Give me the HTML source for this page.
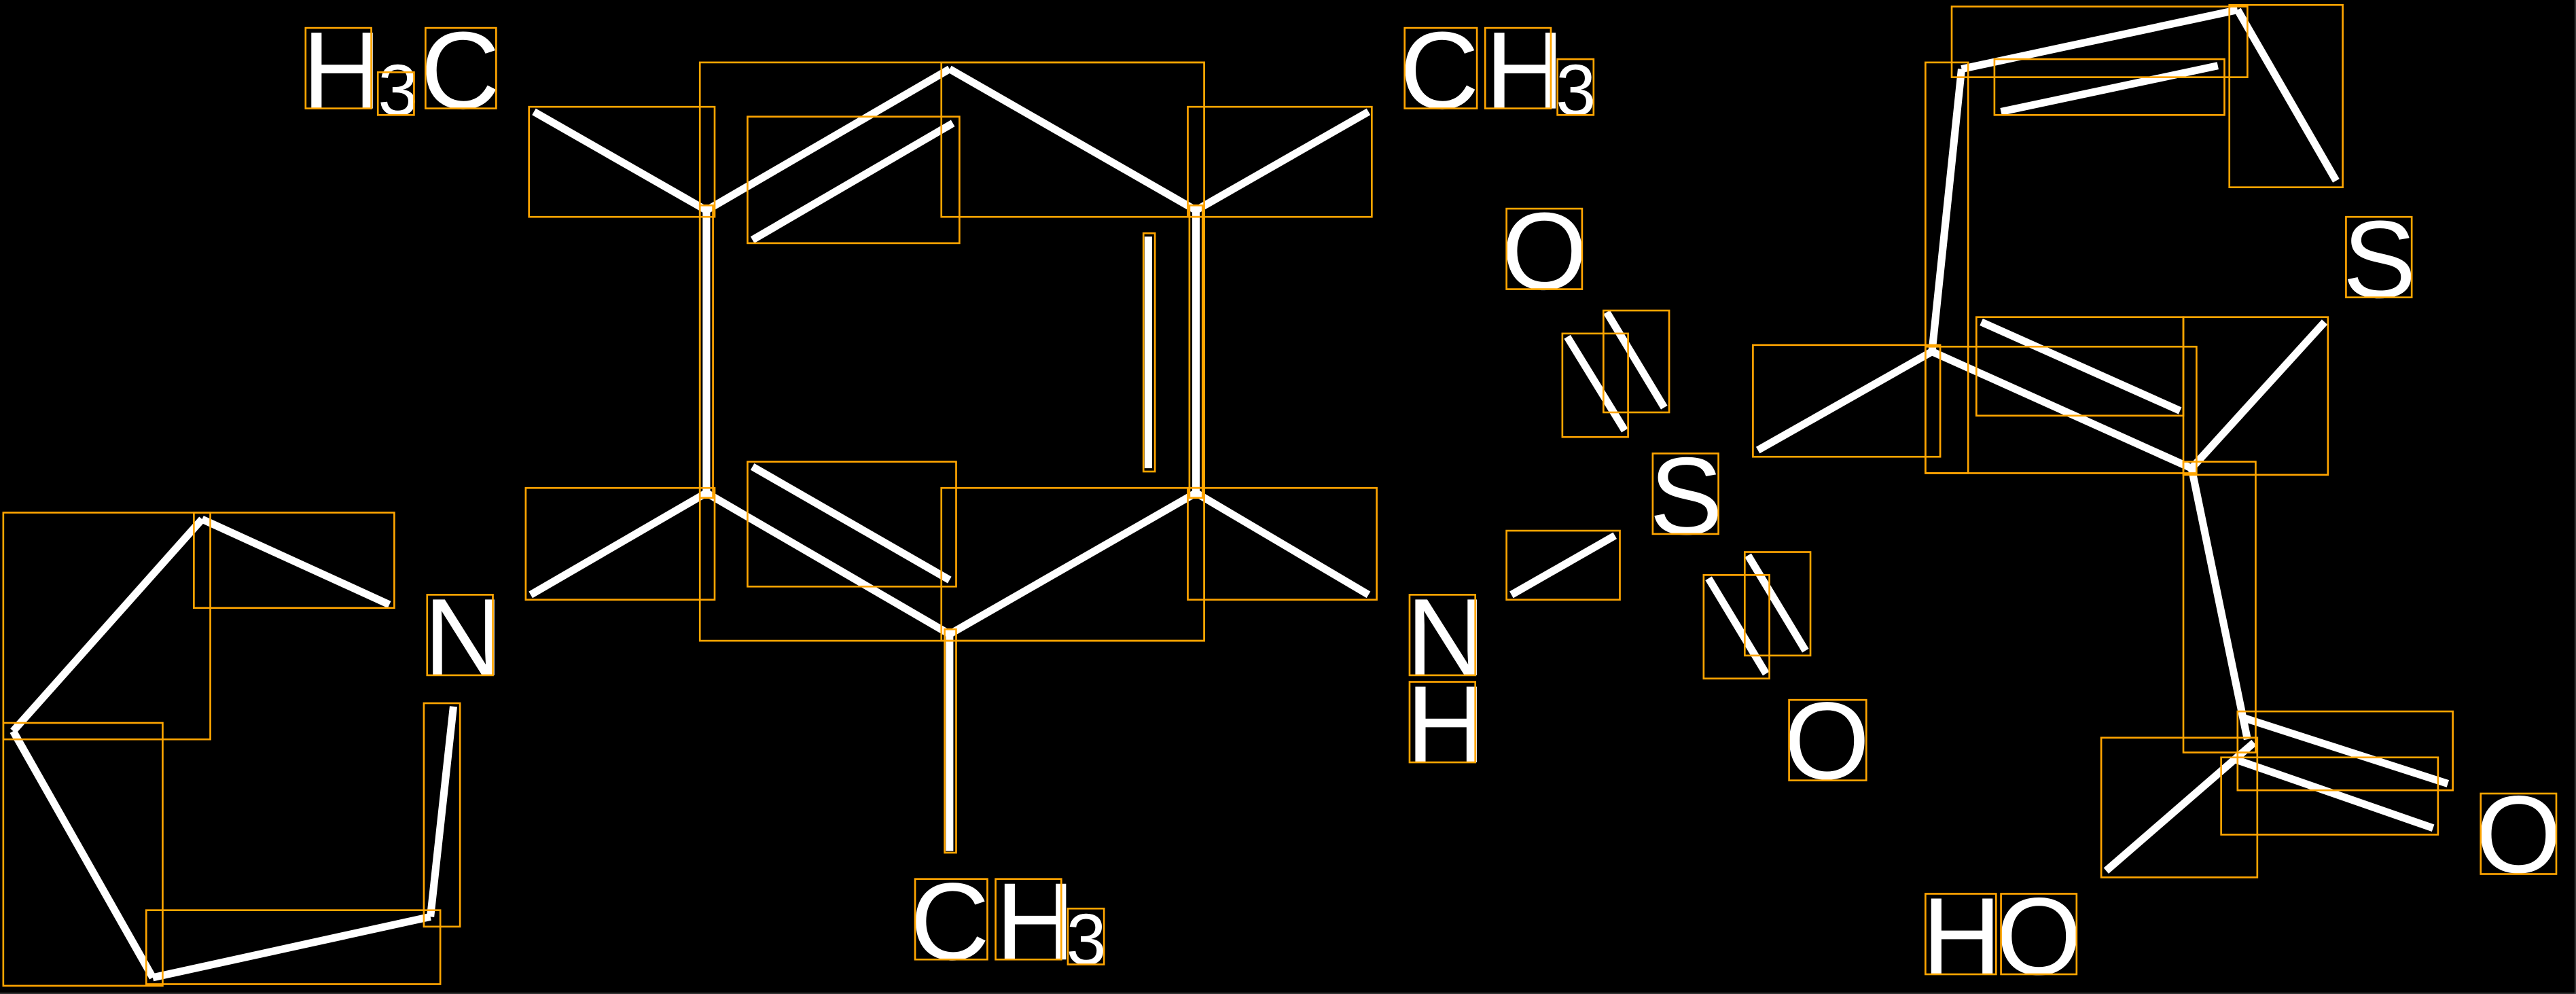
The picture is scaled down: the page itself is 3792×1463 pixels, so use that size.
<!DOCTYPE html>
<html><head><meta charset="utf-8"><style>
html,body{margin:0;padding:0;background:#000;}
svg{display:block;}
text{font-family:"Liberation Sans",sans-serif;fill:#fff;}
</style></head><body>
<svg width="3792" height="1463" viewBox="0 0 1568 605" preserveAspectRatio="none" xmlns="http://www.w3.org/2000/svg">
<rect x="0" y="0" width="1568" height="605" fill="#000"/>
<line x1="1567.5" y1="0" x2="1567.5" y2="605" stroke="#555" stroke-width="0.6"/>
<line x1="0" y1="604.5" x2="1568" y2="604.5" stroke="#555" stroke-width="0.6"/>
<g stroke="#fff" stroke-width="4.6" stroke-linecap="butt" fill="none">
<line x1="430" y1="128" x2="578" y2="42"/>
<line x1="458" y1="146" x2="580" y2="75"/>
<line x1="578" y1="42" x2="728" y2="128"/>
<line x1="728" y1="128" x2="728" y2="300"/>
<line x1="699" y1="144" x2="699" y2="285"/>
<line x1="728" y1="300" x2="578" y2="386"/>
<line x1="578" y1="386" x2="430" y2="300"/>
<line x1="458" y1="284" x2="578" y2="353"/>
<line x1="430" y1="300" x2="430" y2="128"/>
<line x1="430" y1="128" x2="325" y2="68"/>
<line x1="728" y1="128" x2="833" y2="68"/>
<line x1="430" y1="300" x2="323" y2="362"/>
<line x1="728" y1="300" x2="833" y2="362"/>
<line x1="578" y1="386" x2="578" y2="518"/>
<line x1="123" y1="316" x2="237" y2="368"/>
<line x1="123" y1="316" x2="8" y2="445"/>
<line x1="8" y1="445" x2="93" y2="595"/>
<line x1="93" y1="595" x2="262" y2="558"/>
<line x1="262" y1="558" x2="276" y2="430"/>
<line x1="920" y1="362" x2="983" y2="326"/>
<line x1="954" y1="205" x2="989" y2="262"/>
<line x1="978" y1="190" x2="1013" y2="248"/>
<line x1="1040" y1="352" x2="1075" y2="410"/>
<line x1="1064" y1="338" x2="1099" y2="396"/>
<line x1="1176" y1="214" x2="1194" y2="42"/>
<line x1="1194" y1="42" x2="1362" y2="6"/>
<line x1="1218" y1="68" x2="1350" y2="40"/>
<line x1="1362" y1="6" x2="1422" y2="110"/>
<line x1="1176" y1="214" x2="1070" y2="274"/>
<line x1="1176" y1="214" x2="1334" y2="285"/>
<line x1="1206" y1="196" x2="1327" y2="250"/>
<line x1="1334" y1="285" x2="1415" y2="196"/>
<line x1="1334" y1="285" x2="1368" y2="450"/>
<line x1="1366" y1="437" x2="1490" y2="477"/>
<line x1="1360" y1="462" x2="1481" y2="504"/>
<line x1="1372" y1="452" x2="1282" y2="530"/>
</g>
<g font-size="67">
<text x="184" y="66">H</text><text x="230" y="70" font-size="44">3</text><text x="256" y="66">C</text>
<text x="852" y="66">C</text><text x="904" y="66">H</text><text x="947" y="70" font-size="44">3</text>
<text x="554" y="584">C</text><text x="606" y="584">H</text><text x="649" y="587" font-size="44">3</text>
<text x="258" y="411">N</text>
<text x="856" y="411">N</text><text x="856" y="464">H</text>
<text x="914" y="176">O</text>
<text x="1004" y="325">S</text>
<text x="1086" y="474">O</text>
<text x="1426" y="181">S</text>
<text x="1507" y="531">O</text>
<text x="1170" y="593">H</text><text x="1215" y="593">O</text>
</g>
<g stroke="#ffa500" stroke-width="1.1" fill="none">
<rect x="186" y="17" width="40" height="49"/><rect x="230" y="44" width="22" height="26"/><rect x="259" y="17" width="43" height="49"/>
<rect x="855" y="17" width="44" height="49"/><rect x="904" y="17" width="40" height="49"/><rect x="948" y="36" width="22" height="34"/>
<rect x="557" y="535" width="44" height="49"/><rect x="606" y="535" width="40" height="49"/><rect x="650" y="553" width="22" height="34"/>
<rect x="426" y="38" width="307" height="352"/>
<rect x="573" y="38" width="160" height="94"/>
<rect x="322" y="65" width="113" height="67"/>
<rect x="455" y="71" width="129" height="77"/>
<rect x="723" y="65" width="112" height="67"/>
<rect x="320" y="297" width="115" height="68"/>
<rect x="455" y="281" width="127" height="76"/>
<rect x="573" y="297" width="160" height="93"/>
<rect x="723" y="297" width="115" height="68"/>
<rect x="696" y="142" width="7" height="145"/>
<rect x="426" y="125" width="8" height="178"/>
<rect x="724" y="125" width="8" height="178"/>
<rect x="575" y="383" width="7" height="136"/>
<rect x="2" y="312" width="126" height="138"/><rect x="118" y="312" width="122" height="58"/>
<rect x="2" y="440" width="97" height="160"/><rect x="89" y="554" width="179" height="45"/>
<rect x="258" y="428" width="22" height="136"/><rect x="260" y="362" width="40" height="49"/>
<rect x="917" y="127" width="46" height="49"/><rect x="951" y="203" width="40" height="63"/><rect x="976" y="189" width="40" height="62"/>
<rect x="1006" y="276" width="40" height="49"/><rect x="917" y="323" width="69" height="42"/>
<rect x="1037" y="350" width="40" height="63"/><rect x="1062" y="336" width="40" height="63"/>
<rect x="1089" y="426" width="47" height="49"/><rect x="858" y="362" width="40" height="49"/><rect x="858" y="415" width="40" height="49"/>
<rect x="1188" y="4" width="180" height="43"/><rect x="1214" y="36" width="140" height="34"/><rect x="1357" y="3" width="69" height="111"/>
<rect x="1172" y="38" width="26" height="250"/><rect x="1067" y="210" width="114" height="68"/><rect x="1172" y="211" width="165" height="77"/>
<rect x="1203" y="193" width="126" height="60"/><rect x="1329" y="193" width="88" height="96"/><rect x="1329" y="281" width="44" height="177"/>
<rect x="1362" y="433" width="131" height="48"/><rect x="1352" y="461" width="132" height="47"/><rect x="1279" y="449" width="95" height="85"/>
<rect x="1428" y="132" width="40" height="49"/><rect x="1510" y="483" width="46" height="49"/>
<rect x="1172" y="544" width="43" height="49"/><rect x="1218" y="544" width="46" height="49"/>
</g>
</svg>
</body></html>
